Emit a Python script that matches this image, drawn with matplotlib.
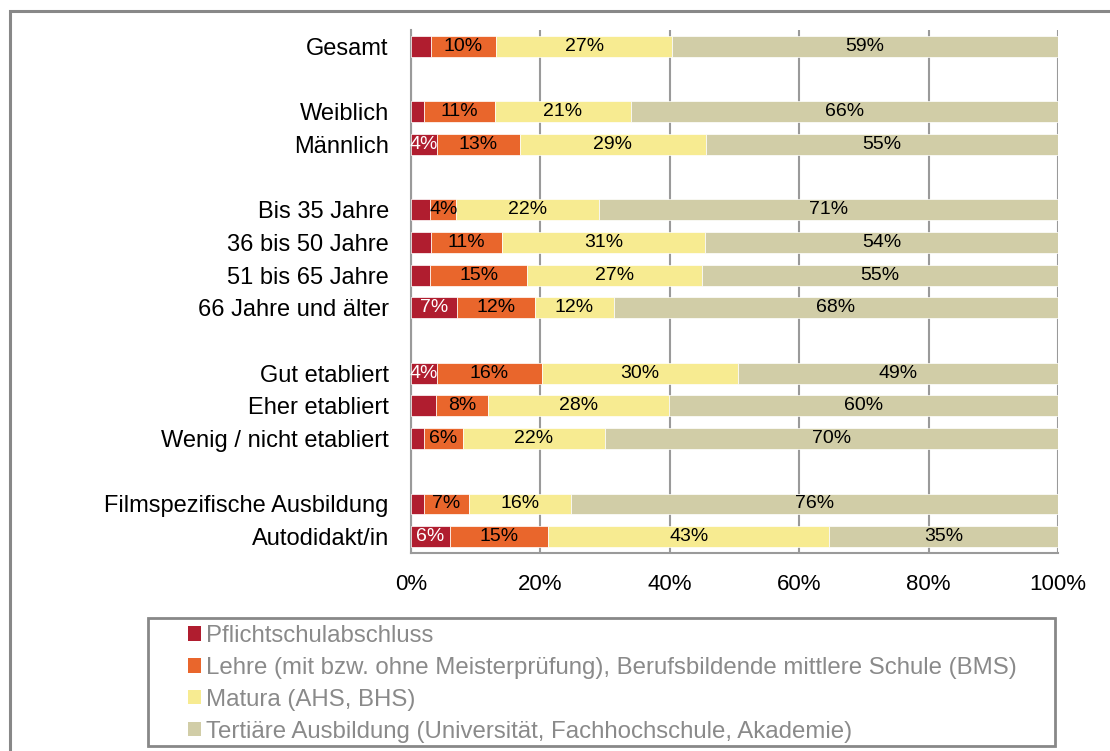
import matplotlib.pyplot as plt
import numpy as np
from matplotlib.patches import Patch, Rectangle

plt.rcParams['font.family'] = ['Liberation Sans', 'DejaVu Sans']

# groups of categories, separated by an empty row
groups = [
    ['Gesamt'],
    ['Weiblich', 'Männlich'],
    ['Bis 35 Jahre', '36 bis 50 Jahre', '51 bis 65 Jahre', '66 Jahre und älter'],
    ['Gut etabliert', 'Eher etabliert', 'Wenig / nicht etabliert'],
    ['Filmspezifische Ausbildung', 'Autodidakt/in'],
]

series_names = [
    'Pflichtschulabschluss',
    'Lehre (mit bzw. ohne Meisterprüfung), Berufsbildende mittlere Schule (BMS)',
    'Matura (AHS, BHS)',
    'Tertiäre Ausbildung (Universität, Fachhochschule, Akademie)',
]

pflicht = [3, 2, 4, 3, 3, 3, 7, 4, 3.9, 2, 2, 6]
lehre = [10, 11, 13, 4, 11, 15, 12, 16, 8, 6, 7, 15]
matura = [27, 21, 29, 22, 31, 27, 12, 30, 28, 22, 16, 43]
tertiaer = [59, 66, 55, 71, 54, 55, 68, 49, 60, 70, 76, 35]

colors = ['#B01D2F', '#E9662C', '#F7EB91', '#D1CDA7']
label_colors = ['white', 'black', 'black', 'black']

# row positions with a gap between groups
labels, ypos = [], []
row = 0
for g in groups:
    for name in g:
        labels.append(name)
        ypos.append(row)
        row += 1
    row += 1
ypos = np.array(ypos)

data = np.array([pflicht, lehre, matura, tertiaer], dtype=float)
shares = data / data.sum(axis=0) * 100  # 100% stacked

fig = plt.figure(figsize=(11.1, 7.51), dpi=100)
ax = fig.add_axes([411 / 1110, 1 - 553 / 751, 647 / 1110, 523 / 751])

left = np.zeros(len(labels))
for i in range(4):
    ax.barh(ypos, shares[i], left=left, height=0.64, color=colors[i],
            edgecolor='white', linewidth=0.5, zorder=3)
    for y, l, w, v in zip(ypos, left, shares[i], data[i]):
        if v >= 4:
            ax.text(l + w / 2, y, f'{v:.0f}%', ha='center', va='center',
                    fontsize=14, color=label_colors[i], zorder=4)
    left += shares[i]

ax.set_xlim(0, 100)
ax.set_ylim(ypos.max() + 0.5, -0.5)
ax.set_xticks(range(0, 101, 20))
ax.set_xticklabels([f'{t}%' for t in range(0, 101, 20)])
ax.set_yticks(ypos)
ax.set_yticklabels(labels)
ax.tick_params(axis='x', length=0, pad=15, labelsize=16)
ax.tick_params(axis='y', length=0, pad=16, labelsize=17)
ax.xaxis.grid(True, color='#9a9a9a', linewidth=1.5, zorder=0)
ax.set_axisbelow(True)
for s in ['top', 'right']:
    ax.spines[s].set_visible(False)
for s in ['left', 'bottom']:
    ax.spines[s].set_color('#9a9a9a')
    ax.spines[s].set_linewidth(1.5)

# legend box
fig.add_artist(Rectangle((148 / 1110, 1 - 746 / 751), 907 / 1110, 128 / 751,
                         transform=fig.transFigure, fill=False,
                         edgecolor='#888888', linewidth=2))
handles = [Patch(facecolor=c, edgecolor='none') for c in colors]
fig.legend(handles, series_names, loc='upper left',
           bbox_to_anchor=(188 / 1110, 1 - 625 / 751), frameon=False,
           fontsize=17.3, labelcolor='#8a8a8a', handlelength=0.55,
           handleheight=0.55, handletextpad=0.2, labelspacing=0.41,
           borderaxespad=0, borderpad=0)

# outer frame (left and top edges visible)
fig.add_artist(Rectangle((9.5 / 1110, -0.1), 1.2, 1.1 - 10.5 / 751,
                         transform=fig.transFigure, fill=False,
                         edgecolor='#888888', linewidth=2.2))

fig.savefig('out.png', dpi=100)
